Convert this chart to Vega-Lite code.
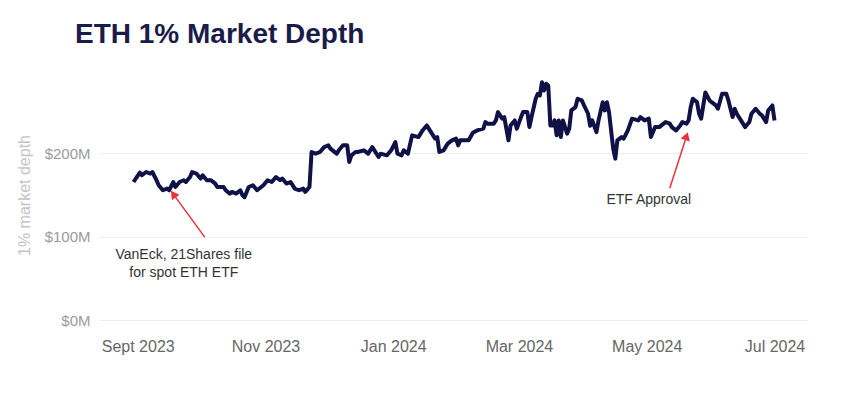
{
  "$schema": "https://vega.github.io/schema/vega-lite/v6.json",
  "width": 708,
  "height": 250,
  "autosize": {"type": "none"},
  "padding": {"left": 100, "top": 70, "right": 38, "bottom": 73},
  "background": "white",
  "config": {"font": "Liberation Sans", "view": {"stroke": null}},
  "title": {"text": "ETH 1% Market Depth", "anchor": "start", "frame": "group", "dx": -25, "offset": 21, "fontSize": 28, "fontWeight": "bold", "color": "#1b1b4b"},
  "datasets": {
    "depth": [
      {"date": "2023-08-30", "value": 165.6}, {"date": "2023-09-02", "value": 176.9}, {"date": "2023-09-03", "value": 173.7},
      {"date": "2023-09-05", "value": 177.6}, {"date": "2023-09-07", "value": 175.7}, {"date": "2023-09-08", "value": 177.6},
      {"date": "2023-09-10", "value": 167.7}, {"date": "2023-09-11", "value": 161.7}, {"date": "2023-09-13", "value": 155.7},
      {"date": "2023-09-15", "value": 157.7}, {"date": "2023-09-16", "value": 155.7}, {"date": "2023-09-18", "value": 165.6},
      {"date": "2023-09-19", "value": 159.6}, {"date": "2023-09-21", "value": 165.6}, {"date": "2023-09-23", "value": 167.7},
      {"date": "2023-09-24", "value": 165.6}, {"date": "2023-09-26", "value": 171.6}, {"date": "2023-09-27", "value": 177.6},
      {"date": "2023-09-29", "value": 175.7}, {"date": "2023-10-01", "value": 169.7}, {"date": "2023-10-02", "value": 173.7},
      {"date": "2023-10-04", "value": 167.7}, {"date": "2023-10-06", "value": 167.7}, {"date": "2023-10-08", "value": 163.7},
      {"date": "2023-10-09", "value": 159.6}, {"date": "2023-10-12", "value": 159.6}, {"date": "2023-10-13", "value": 155.7},
      {"date": "2023-10-15", "value": 151.7}, {"date": "2023-10-16", "value": 153.7}, {"date": "2023-10-18", "value": 151.7},
      {"date": "2023-10-20", "value": 155.7}, {"date": "2023-10-21", "value": 149.7}, {"date": "2023-10-22", "value": 147.3},
      {"date": "2023-10-24", "value": 159.6}, {"date": "2023-10-26", "value": 161.7}, {"date": "2023-10-28", "value": 155.7},
      {"date": "2023-10-31", "value": 161.7}, {"date": "2023-11-02", "value": 167.7}, {"date": "2023-11-04", "value": 165.6},
      {"date": "2023-11-06", "value": 171.6}, {"date": "2023-11-08", "value": 167.7}, {"date": "2023-11-09", "value": 169.7},
      {"date": "2023-11-11", "value": 163.7}, {"date": "2023-11-13", "value": 165.6}, {"date": "2023-11-15", "value": 157.7},
      {"date": "2023-11-17", "value": 155.7}, {"date": "2023-11-19", "value": 157.7}, {"date": "2023-11-20", "value": 153.7},
      {"date": "2023-11-22", "value": 159.6}, {"date": "2023-11-23", "value": 201.6}, {"date": "2023-11-25", "value": 199.6},
      {"date": "2023-11-27", "value": 201.6}, {"date": "2023-11-29", "value": 207.5}, {"date": "2023-12-01", "value": 209.6},
      {"date": "2023-12-02", "value": 205.6}, {"date": "2023-12-05", "value": 199.6}, {"date": "2023-12-06", "value": 203.6},
      {"date": "2023-12-08", "value": 209.6}, {"date": "2023-12-10", "value": 209.6}, {"date": "2023-12-11", "value": 189.6},
      {"date": "2023-12-12", "value": 197.6}, {"date": "2023-12-14", "value": 201.6}, {"date": "2023-12-15", "value": 201.6},
      {"date": "2023-12-18", "value": 203.6}, {"date": "2023-12-20", "value": 199.6}, {"date": "2023-12-22", "value": 207.5},
      {"date": "2023-12-25", "value": 195.6}, {"date": "2023-12-26", "value": 199.6}, {"date": "2023-12-29", "value": 197.6},
      {"date": "2023-12-31", "value": 203.6}, {"date": "2024-01-02", "value": 213.5}, {"date": "2024-01-03", "value": 199.6},
      {"date": "2024-01-05", "value": 197.6}, {"date": "2024-01-06", "value": 203.6}, {"date": "2024-01-08", "value": 199.6},
      {"date": "2024-01-10", "value": 221.6}, {"date": "2024-01-13", "value": 219.5}, {"date": "2024-01-15", "value": 227.5},
      {"date": "2024-01-17", "value": 233.5}, {"date": "2024-01-19", "value": 225.5}, {"date": "2024-01-21", "value": 217.6},
      {"date": "2024-01-22", "value": 219.5}, {"date": "2024-01-23", "value": 201.6}, {"date": "2024-01-25", "value": 203.6},
      {"date": "2024-01-27", "value": 211.6}, {"date": "2024-01-29", "value": 215.6}, {"date": "2024-01-31", "value": 217.6},
      {"date": "2024-02-01", "value": 209.6}, {"date": "2024-02-02", "value": 215.6}, {"date": "2024-02-06", "value": 215.6},
      {"date": "2024-02-08", "value": 224.6}, {"date": "2024-02-10", "value": 227.5}, {"date": "2024-02-13", "value": 229.6},
      {"date": "2024-02-14", "value": 237.5}, {"date": "2024-02-15", "value": 235.6}, {"date": "2024-02-18", "value": 235.6},
      {"date": "2024-02-19", "value": 239.5}, {"date": "2024-02-20", "value": 249.5}, {"date": "2024-02-22", "value": 241.6},
      {"date": "2024-02-23", "value": 243.5}, {"date": "2024-02-25", "value": 215.6}, {"date": "2024-02-26", "value": 233.5},
      {"date": "2024-02-28", "value": 239.5}, {"date": "2024-02-29", "value": 229.6}, {"date": "2024-03-02", "value": 243.5},
      {"date": "2024-03-03", "value": 249.5}, {"date": "2024-03-05", "value": 249.5}, {"date": "2024-03-06", "value": 231.5},
      {"date": "2024-03-07", "value": 243.5}, {"date": "2024-03-09", "value": 265.5}, {"date": "2024-03-10", "value": 271.5},
      {"date": "2024-03-11", "value": 269.5}, {"date": "2024-03-12", "value": 285.4}, {"date": "2024-03-13", "value": 275.4},
      {"date": "2024-03-14", "value": 283.5}, {"date": "2024-03-15", "value": 281.4}, {"date": "2024-03-16", "value": 233.5},
      {"date": "2024-03-17", "value": 233.5}, {"date": "2024-03-18", "value": 239.5}, {"date": "2024-03-19", "value": 221.6},
      {"date": "2024-03-20", "value": 239.5}, {"date": "2024-03-21", "value": 219.5}, {"date": "2024-03-22", "value": 239.5},
      {"date": "2024-03-24", "value": 223.6}, {"date": "2024-03-25", "value": 229.6}, {"date": "2024-03-26", "value": 251.5},
      {"date": "2024-03-28", "value": 255.4}, {"date": "2024-03-29", "value": 265.5}, {"date": "2024-03-31", "value": 263.5},
      {"date": "2024-04-01", "value": 258.0}, {"date": "2024-04-03", "value": 247.5}, {"date": "2024-04-04", "value": 233.0},
      {"date": "2024-04-05", "value": 239.5}, {"date": "2024-04-07", "value": 225.5}, {"date": "2024-04-08", "value": 239.5},
      {"date": "2024-04-10", "value": 261.4}, {"date": "2024-04-11", "value": 251.5}, {"date": "2024-04-12", "value": 261.4},
      {"date": "2024-04-13", "value": 249.5}, {"date": "2024-04-15", "value": 205.6}, {"date": "2024-04-16", "value": 193.6},
      {"date": "2024-04-17", "value": 215.6}, {"date": "2024-04-19", "value": 219.5}, {"date": "2024-04-20", "value": 217.6},
      {"date": "2024-04-22", "value": 227.5}, {"date": "2024-04-24", "value": 241.6}, {"date": "2024-04-27", "value": 239.5},
      {"date": "2024-04-28", "value": 243.5}, {"date": "2024-04-30", "value": 239.5}, {"date": "2024-05-02", "value": 241.6},
      {"date": "2024-05-03", "value": 219.5}, {"date": "2024-05-05", "value": 231.5}, {"date": "2024-05-07", "value": 231.5},
      {"date": "2024-05-10", "value": 237.5}, {"date": "2024-05-12", "value": 235.6}, {"date": "2024-05-13", "value": 231.5},
      {"date": "2024-05-15", "value": 227.5}, {"date": "2024-05-17", "value": 233.5}, {"date": "2024-05-18", "value": 237.5},
      {"date": "2024-05-20", "value": 235.6}, {"date": "2024-05-21", "value": 239.5}, {"date": "2024-05-22", "value": 255.4},
      {"date": "2024-05-23", "value": 265.5}, {"date": "2024-05-25", "value": 261.4}, {"date": "2024-05-26", "value": 247.5},
      {"date": "2024-05-27", "value": 241.6}, {"date": "2024-05-29", "value": 273.1}, {"date": "2024-05-31", "value": 263.5},
      {"date": "2024-06-01", "value": 261.4}, {"date": "2024-06-03", "value": 257.5}, {"date": "2024-06-04", "value": 253.5},
      {"date": "2024-06-06", "value": 271.5}, {"date": "2024-06-08", "value": 271.5}, {"date": "2024-06-09", "value": 263.5},
      {"date": "2024-06-11", "value": 243.5}, {"date": "2024-06-12", "value": 253.5}, {"date": "2024-06-13", "value": 247.5},
      {"date": "2024-06-15", "value": 239.5}, {"date": "2024-06-17", "value": 231.5}, {"date": "2024-06-19", "value": 237.5},
      {"date": "2024-06-20", "value": 247.5}, {"date": "2024-06-22", "value": 253.5}, {"date": "2024-06-24", "value": 247.5},
      {"date": "2024-06-25", "value": 245.5}, {"date": "2024-06-27", "value": 237.5}, {"date": "2024-06-28", "value": 251.5},
      {"date": "2024-06-30", "value": 257.5}, {"date": "2024-07-01", "value": 239.5}
    ],
    "arrows": [
      {"date": "2023-10-03", "value": 99.4, "date2": "2023-09-18", "value2": 151},
      {"date": "2024-05-12", "value": 158, "date2": "2024-05-20", "value2": 220.6}
    ],
    "heads": [
      {"date": "2023-09-18", "value": 151, "note": "VanEck"},
      {"date": "2024-05-20", "value": 220.6, "note": "ETF"}
    ],
    "notes": [
      {"date": "2023-09-23", "value": 78, "label": "VanEck, 21Shares file\nfor spot ETH ETF"},
      {"date": "2024-05-02", "value": 143.7, "label": "ETF Approval"}
    ]
  },
  "encoding": {
    "x": {
      "field": "date", "type": "temporal",
      "scale": {"type": "utc", "domain": [{"year": 2023, "month": 8, "date": 14, "utc": true}, {"year": 2024, "month": 7, "date": 17, "utc": true}]},
      "axis": {
        "title": null, "grid": false, "domain": false, "ticks": false,
        "values": [
          {"year": 2023, "month": 9, "date": 1, "utc": true}, {"year": 2023, "month": 11, "date": 1, "utc": true},
          {"year": 2024, "month": 1, "date": 1, "utc": true}, {"year": 2024, "month": 3, "date": 1, "utc": true},
          {"year": 2024, "month": 5, "date": 1, "utc": true}, {"year": 2024, "month": 7, "date": 1, "utc": true}
        ],
        "labelExpr": "utcFormat(datum.value, '%b') == 'Sep' ? 'Sept ' + utcFormat(datum.value, '%Y') : utcFormat(datum.value, '%b %Y')",
        "labelFontSize": 16, "labelColor": "#666666", "labelPadding": 18
      }
    },
    "y": {
      "field": "value", "type": "quantitative",
      "scale": {"domain": [0, 300], "nice": false},
      "axis": {
        "title": "1% market depth", "values": [0, 100, 200],
        "labelExpr": "'$' + datum.value + 'M'",
        "grid": true, "gridColor": "#ececec", "domain": false, "ticks": false,
        "labelPadding": 10, "labelFontSize": 15, "labelColor": "#9a9a9a",
        "titleColor": "#c4c4c4", "titleFontSize": 16, "titleFontWeight": "normal", "titlePadding": 12
      }
    }
  },
  "layer": [
    {"data": {"name": "depth"}, "mark": {"type": "line", "color": "#0f1147", "strokeWidth": 4, "strokeJoin": "round"}},
    {"data": {"name": "arrows"}, "mark": {"type": "rule", "color": "#e8333b", "strokeWidth": 1.5},
     "encoding": {"x2": {"field": "date2"}, "y2": {"field": "value2"}}},
    {"data": {"name": "heads"}, "transform": [{"filter": "datum.note == 'VanEck'"}],
     "mark": {"type": "point", "shape": "triangle-up", "filled": true, "color": "#e8333b", "opacity": 1, "size": 90, "angle": 324}},
    {"data": {"name": "heads"}, "transform": [{"filter": "datum.note == 'ETF'"}],
     "mark": {"type": "point", "shape": "triangle-up", "filled": true, "color": "#e8333b", "opacity": 1, "size": 90, "angle": 18}},
    {"data": {"name": "notes"}, "mark": {"type": "text", "lineBreak": "\n", "fontSize": 14, "color": "#333333", "align": "center", "baseline": "middle", "lineHeight": 18},
     "encoding": {"text": {"field": "label"}}}
  ]
}
